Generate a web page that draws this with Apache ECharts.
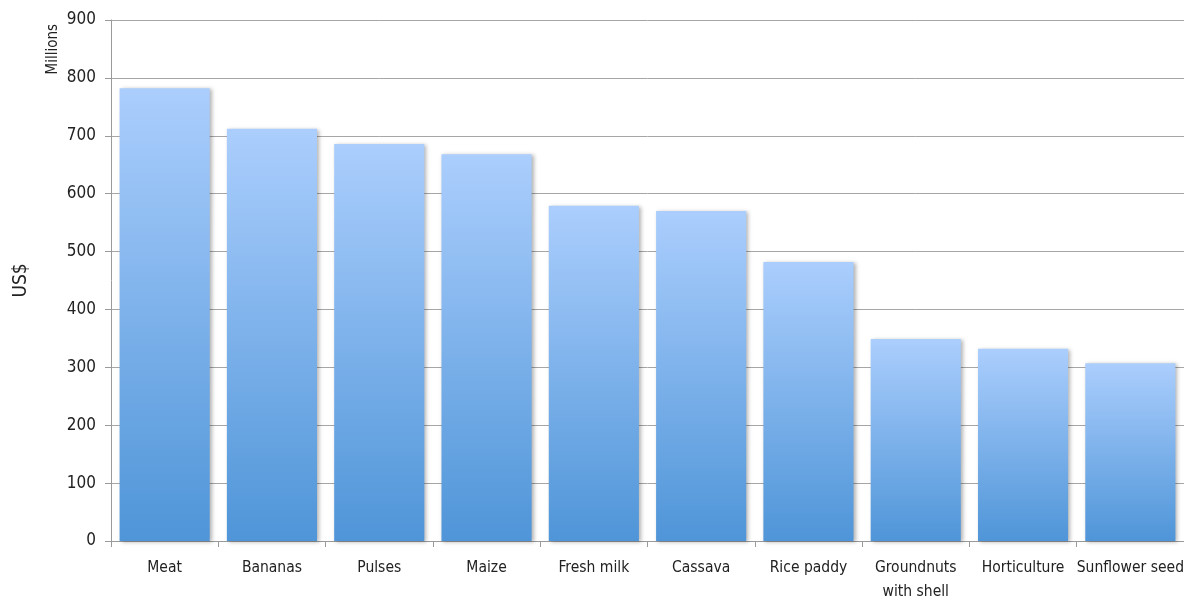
<!DOCTYPE html>
<html><head><meta charset="utf-8">
<script src="https://cdn.jsdelivr.net/npm/echarts@6/dist/echarts.min.js"></script>
<style>html,body{margin:0;padding:0;background:#fff;overflow:hidden;width:1184px;height:599px}#c{position:absolute;left:0;top:0;width:1184px;height:599px}</style>
</head><body><div id="c"></div>
<script>
const categories = ['Meat','Bananas','Pulses','Maize','Fresh milk','Cassava','Rice paddy','Groundnuts\nwith shell','Horticulture','Sunflower seed'];
const values = [782, 712, 686, 668, 579, 570, 482, 349, 332, 307];
const yTicks = [0,100,200,300,400,500,600,700,800,900];

const font = '"Liberation Sans Narrow","DejaVu Sans Condensed","Open Sans",sans-serif';
const chart = echarts.init(document.getElementById('c'), null, {width:1184,height:599});
chart.setOption({
  animation:false,
  grid:{left:111,right:0,top:20,bottom:58,containLabel:false,outerBoundsMode:'none'},
  xAxis:{type:'category',data:categories,
    axisLine:{lineStyle:{color:'#9a9a9a'}},
    axisTick:{show:true,length:6,lineStyle:{color:'#9a9a9a'}},
    axisLabel:{color:'#222',fontSize:15.5,fontFamily:font,margin:15,lineHeight:24,interval:0}},
  yAxis:{type:'value',min:0,max:900,interval:100,
    name:'US$',nameLocation:'middle',nameRotate:90,nameGap:80,
    nameTextStyle:{color:'#222',fontSize:19,fontFamily:font},
    axisLine:{show:true,lineStyle:{color:'#9a9a9a'}},
    axisTick:{show:true,length:6,lineStyle:{color:'#9a9a9a'}},
    splitLine:{lineStyle:{color:'#a6a6a6',width:1}},
    axisLabel:{color:'#222',fontSize:17,fontFamily:font,margin:15,
      formatter:v=>yTicks.includes(v)?String(v):''}},
  graphic:[{type:'text',left:46,top:24,rotation:Math.PI/2,
    style:{text:'Millions',fill:'#222',fontSize:15,fontFamily:font}}],
  series:[{type:'bar',data:values,barCategoryGap:'16%',
    itemStyle:{color:new echarts.graphic.LinearGradient(0,0,0,1,[{offset:0,color:'#abcefd'},{offset:1,color:'#4f95d8'}]),
      shadowColor:'rgba(0,0,0,0.3)',shadowBlur:4,shadowOffsetX:2,shadowOffsetY:1}}]
});
</script></body></html>
